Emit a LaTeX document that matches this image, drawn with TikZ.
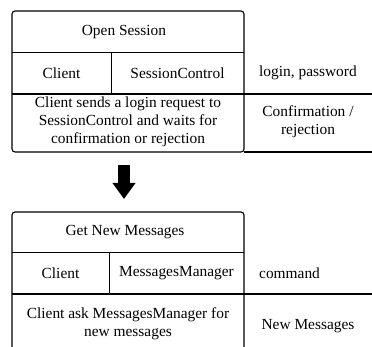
\documentclass[tikz,border=0pt]{standalone}
\usepackage{fontspec}
\setmainfont{Liberation Serif}
\newfontfamily\stepfont{Liberation Serif}
\usetikzlibrary{arrows.meta}

\tikzstyle{cell} = [inner sep=0pt, align=center, font=\stepfont\fontsize{15.4}{18}\selectfont]
\tikzstyle{frame} = [line width=1.1pt, rounded corners=3pt]
\tikzstyle{rule} = [line width=0.9pt]
\tikzstyle{heavy} = [line width=1.7pt]

\begin{document}
\begin{tikzpicture}[x=1pt, y=-1pt]
\useasboundingbox (0,0) rectangle (372,347);
% first step
\draw[frame] (12,11) rectangle (244,152);
\draw[rule] (12,52) -- (244,52);
\draw[rule] (111,52) -- (111,94);
\draw[heavy] (12,94) -- (372,94);
\draw[heavy] (244,152) -- (372,152);
\node[cell] (open) at (124,32) {Open Session};
\node[cell] (client1) at (61.5,73) {Client};
\node[cell] (session) at (177.5,73) {SessionControl};
\node[cell, anchor=west] (login) at (259,73) {login, password};
\node[cell] (request) at (128,122) {Client sends a login request to\\
	SessionControl and waits for\\
	confirmation or rejection};
\node[cell] (confirm) at (308,122) {Confirmation /\\ rejection};
% arrow between the steps
\coordinate (arrtop) at (124,165);
\coordinate (arrtip) at (124,199);
\draw[line width=12pt, -{Triangle[length=16pt,width=22pt]}] (arrtop) -- (arrtip);
% second step
\draw[frame] (12,352) -- (12,212) -- (244,212) -- (244,352);
\draw[rule] (12,252) -- (244,252);
\draw[rule] (109,252) -- (109,294);
\draw[heavy] (12,294) -- (372,294);
\node[cell] (getnew) at (125,232) {Get New Messages};
\node[cell] (client2) at (60.5,273) {Client};
\node[cell] (manager) at (176.5,273) {MessagesManager};
\node[cell, anchor=west] (command) at (259,273) {command};
\node[cell] (ask) at (128,324) {Client ask MessagesManager for\\ new messages};
\node[cell] (newmsg) at (308,326) {New Messages};
\end{tikzpicture}
\end{document}
